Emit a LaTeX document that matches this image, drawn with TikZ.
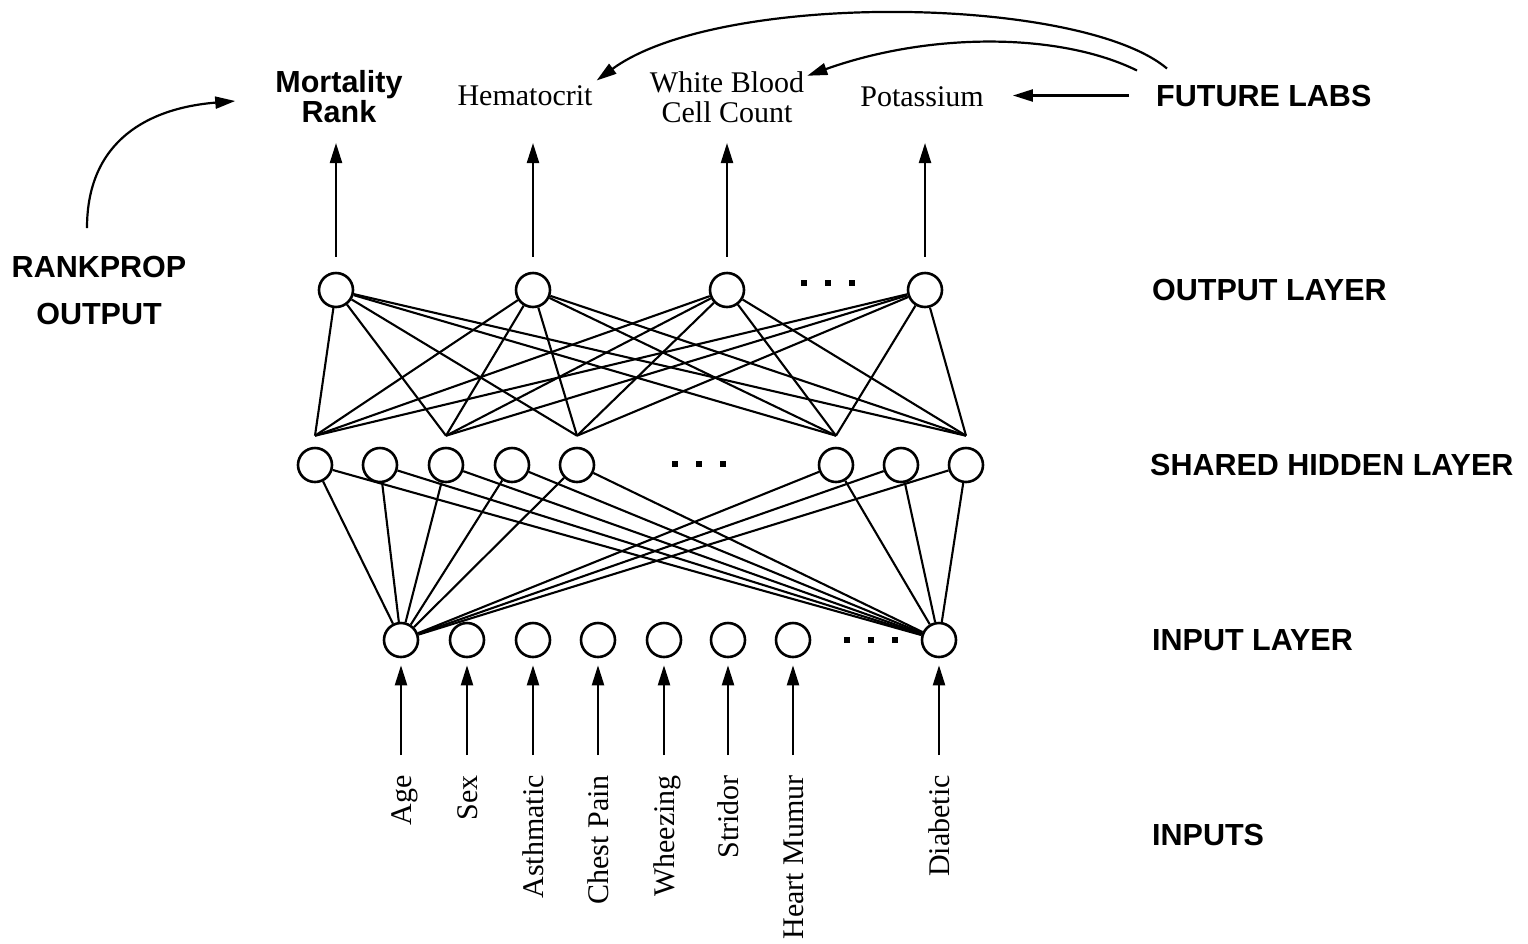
\documentclass[tikz,border=0pt]{standalone}
\usepackage{fontspec}
\setmainfont{Liberation Serif}
\setsansfont{Liberation Sans}
\usetikzlibrary{arrows.meta}
\begin{document}
\begin{tikzpicture}[x=1pt,y=-1pt,
  neuron/.style={circle,draw,line width=2.6pt,minimum size=34pt,inner sep=0pt},
  link/.style={line width=2.1pt},
  feed/.style={line width=2.2pt,-{Triangle[length=20pt,width=12pt]}},
  lab/.style={font=\fontsize{30}{30}\selectfont,inner sep=0pt},
  tag/.style={font=\fontsize{30.5}{47}\selectfont\sffamily\bfseries,inner sep=0pt},
  inlab/.style={lab,rotate=90,anchor=base east},
]
\useasboundingbox (0,0) rectangle (1528,943);

% output layer
\node[neuron] (o1) at (336,290) {};
\node[neuron] (o2) at (533,290) {};
\node[neuron] (o3) at (727,290) {};
\node[neuron] (o4) at (925,290) {};

% shared hidden layer
\foreach \n/\x in {1/315,2/380,3/446,4/512,5/577,6/836,7/901,8/966}{
  \node[neuron] (h\n) at (\x,465) {};
  \coordinate (t\n) at ([yshift=11pt]h\n.north);
}

% input layer
\foreach \n/\x in {1/401,2/467,3/533,4/598,5/664,6/728,7/793,8/939}
  \node[neuron] (i\n) at (\x,640) {};

% ellipses between neurons
\foreach \x in {804,828,852} \fill (\x-3,280) rectangle ++(6,6);
\foreach \x in {675,699,723} \fill (\x-3,461) rectangle ++(6,6);
\foreach \x in {847,871,895} \fill (\x-3,637) rectangle ++(6,6);

% weights
\foreach \o in {o1,o2,o3,o4}
  \foreach \h in {1,3,5,6,8}
    \draw[link] (\o) -- (t\h);
\foreach \i in {i1,i8}
  \foreach \h in {1,...,8}
    \draw[link] (h\h) -- (\i);

% task labels
\node[tag,align=center,font=\fontsize{30.5}{30}\selectfont\sffamily\bfseries] (mort) at (339,97) {Mortality\\Rank};
\node[lab,anchor=base] (hemat) at (525,105) {Hematocrit};
\node[lab,align=center] (wbc) at (727,97) {White Blood\\Cell Count};
\node[lab,anchor=base] (potas) at (922,106) {Potassium};

% side captions
\node[tag,anchor=base west] (future) at (1156,106) {FUTURE LABS};
\node[tag,anchor=base west] (outl) at (1152,300) {OUTPUT LAYER};
\node[tag,anchor=base west] (hidl) at (1150,475) {SHARED HIDDEN LAYER};
\node[tag,anchor=base west] (inl) at (1152,650) {INPUT LAYER};
\node[tag,anchor=base west] (inps) at (1152,845) {INPUTS};
\node[tag,align=center] (rankprop) at (99,290.5) {RANKPROP\\OUTPUT};

% input feature labels
\node[inlab] (lage) at (411,775) {Age};
\node[inlab] (lsex) at (477,775) {Sex};
\node[inlab] (lasth) at (543,775) {Asthmatic};
\node[inlab] (lchest) at (608,775) {Chest Pain};
\node[inlab] (lwhee) at (674,775) {Wheezing};
\node[inlab] (lstri) at (738,775) {Stridor};
\node[inlab] (lheart) at (803,775) {Heart Mumur};
\node[inlab] (ldiab) at (949,775) {Diabetic};

% arrows into inputs and out of outputs
\coordinate (tipy) at (0,143);
\coordinate (footy) at (0,755);
\foreach \o in {o1,o2,o3,o4}
  \draw[feed] ([yshift=15pt]\o.north) -- (\o |- tipy);
\foreach \n in {1,...,8}
  \draw[feed] (i\n |- footy) -- ([yshift=-7pt]i\n.south);

% future labs arrows
\draw[feed,shorten <=27pt,shorten >=29pt] (future.west) -- (potas.east |- future.west);
\draw[feed] ([shift={(-19,-14)}]future.north west) .. controls +(-77,-38) and +(123,-44) .. ([shift={(3,4.5)}]wbc.north east);
\draw[feed] ([shift={(11,-16)}]future.north west) .. controls +(-87,-73) and +(123,-90) .. ([shift={(4,-4.5)}]hemat.north east);

% rankprop arrow
\draw[feed] ([shift={(-12,-28)}]rankprop.north) .. controls +(0,-88) and +(-86,7) .. ([shift={(-40,4)}]mort.west);
\end{tikzpicture}
\end{document}
